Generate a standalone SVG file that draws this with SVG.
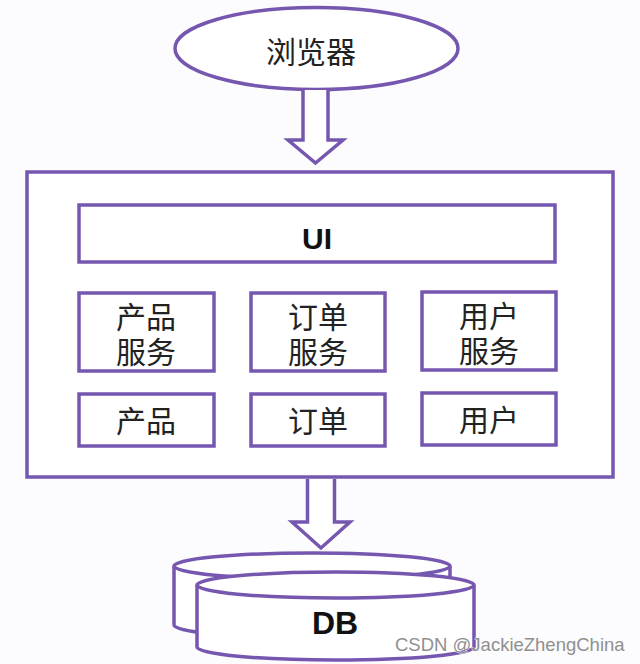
<svg xmlns="http://www.w3.org/2000/svg" width="640" height="664" viewBox="0 0 640 664">
<style>
.ln{fill:#ffffff;stroke:#7657b0;stroke-width:3.5;stroke-linejoin:miter}
.cn{font-family:"Noto Sans CJK SC","Noto Sans",sans-serif;font-size:30px;fill:#222;text-anchor:middle;dominant-baseline:central}
.en{font-family:"Liberation Sans",Arial,sans-serif;font-weight:bold;fill:#111;text-anchor:middle;dominant-baseline:central}
</style>
<rect width="640" height="664" fill="#fcfbfd"/>
<g id="browser">
<ellipse class="ln" cx="316.5" cy="48.5" rx="141.5" ry="41"/>
<text class="cn" x="311" y="50" font-size="32">浏览器</text>
</g>
<g id="app">
<rect class="ln" x="27" y="172" width="586" height="305"/>
</g>
<g id="ui">
<rect class="ln" x="79" y="205" width="476" height="57"/>
<text class="en" x="317" y="238" font-size="30">UI</text>
</g>
<g id="product-service">
<rect class="ln" x="79" y="293" width="135" height="78"/>
<text class="cn" x="146" y="315">产品</text>
<text class="cn" x="146" y="350">服务</text>
</g>
<g id="order-service">
<rect class="ln" x="251" y="293" width="134" height="78"/>
<text class="cn" x="318" y="315">订单</text>
<text class="cn" x="318" y="350">服务</text>
</g>
<g id="user-service">
<rect class="ln" x="422" y="292" width="134" height="78"/>
<text class="cn" x="489" y="314">用户</text>
<text class="cn" x="489" y="349">服务</text>
</g>
<g id="product">
<rect class="ln" x="79" y="394" width="135" height="52"/>
<text class="cn" x="146" y="419">产品</text>
</g>
<g id="order">
<rect class="ln" x="251" y="394" width="134" height="52"/>
<text class="cn" x="318" y="419">订单</text>
</g>
<g id="user">
<rect class="ln" x="422" y="393" width="134" height="52"/>
<text class="cn" x="489" y="418">用户</text>
</g>
<g id="db">
<path class="ln" d="M174,566 V625 A138,13 0 0 0 450,625 V566"/>
<ellipse class="ln" cx="312" cy="566" rx="138" ry="13"/>
<path class="ln" d="M197,585 V647 A138.5,13 0 0 0 474,647 V585"/>
<ellipse class="ln" cx="335.5" cy="585" rx="138.5" ry="13"/>
<text class="en" x="335" y="623" font-size="32">DB</text>
</g>
<g id="connectors">
<path class="ln" d="M303,90 V140 H288 L315.5,163 L343,140 H328 V90"/>
<path class="ln" d="M307.5,479 V522 H292 L321,548 L350,522 H334.5 V479"/>
</g>
<text x="395" y="651" font-family="'Liberation Sans',Arial,sans-serif" font-size="18.5" fill="#8f8f8f" stroke="#ffffff" stroke-width="0.6" paint-order="stroke">CSDN @JackieZhengChina</text>
</svg>
